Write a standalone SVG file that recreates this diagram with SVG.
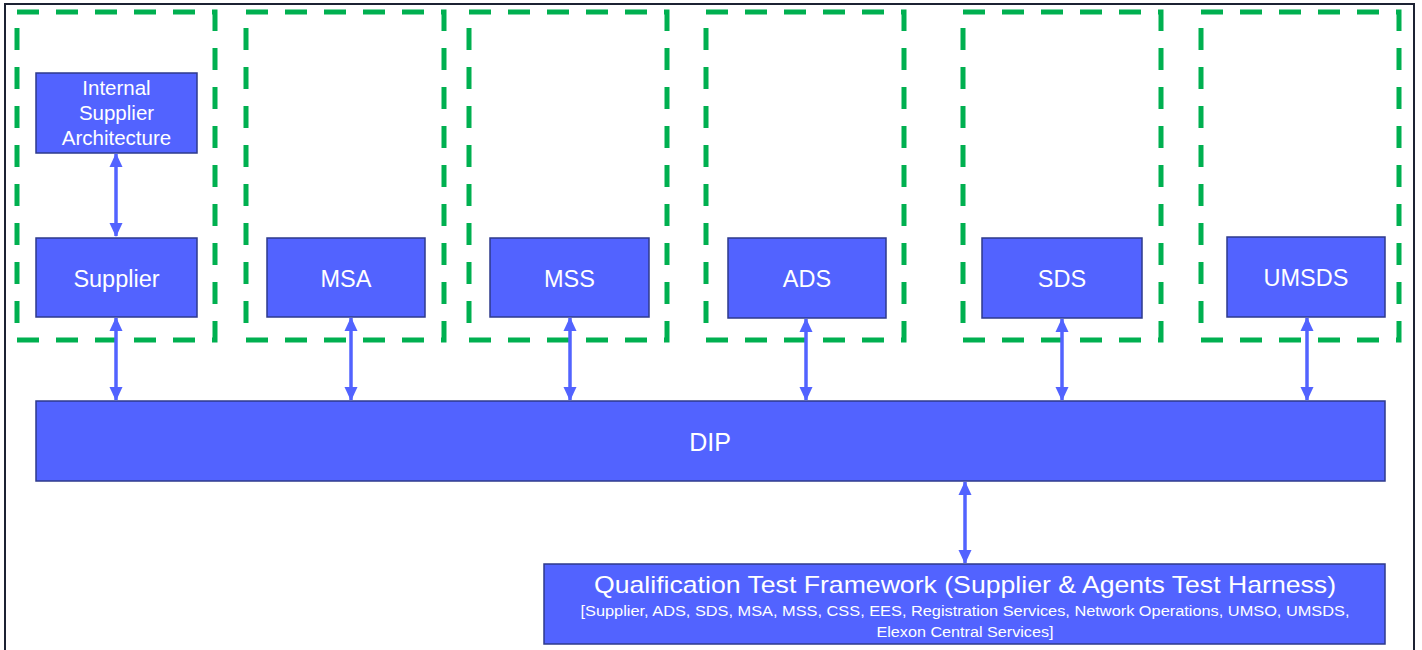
<svg xmlns="http://www.w3.org/2000/svg" width="1422" height="650" viewBox="0 0 1422 650">
<defs>
<style>
.frame{fill:none;stroke:#1c2233;stroke-width:2}
.grp{fill:none;stroke:#00B050;stroke-width:5;stroke-dasharray:22 17}
.node{fill:#5263FF;stroke:#2E3A8C;stroke-width:1.5}
.lbl{fill:#ffffff;font-family:"Liberation Sans",Arial,sans-serif;text-anchor:middle}
.big{font-size:23.5px}
.conn{stroke:#5263FF;stroke-width:3.5;fill:none;marker-start:url(#ah);marker-end:url(#ah)}
</style>
<marker id="ah" viewBox="0 0 14 14" refX="13" refY="7" markerWidth="14" markerHeight="14" markerUnits="userSpaceOnUse" orient="auto-start-reverse">
<path d="M0,0.5 L14,7 L0,13.5 Z" fill="#5263FF"/>
</marker>
</defs>
<rect width="1422" height="650" fill="#ffffff"/>
<rect class="frame" x="5" y="4" width="1409" height="660"/>
<g id="groups">
<rect class="grp" x="17" y="12" width="198" height="328"/>
<rect class="grp" x="246" y="12" width="198" height="328"/>
<rect class="grp" x="469" y="12" width="198" height="328"/>
<rect class="grp" x="706" y="12" width="198" height="328"/>
<rect class="grp" x="963" y="12" width="198" height="328"/>
<rect class="grp" x="1201" y="12" width="198" height="328"/>
</g>
<g id="node-isa">
<rect class="node" x="36" y="73" width="161" height="80"/>
<text class="lbl" x="116.5" y="95" font-size="20.5">Internal</text>
<text class="lbl" x="116.5" y="120" font-size="20.5">Supplier</text>
<text class="lbl" x="116.5" y="145" font-size="20.5">Architecture</text>
</g>
<g id="node-supplier">
<rect class="node" x="36" y="238" width="161" height="79"/>
<text class="lbl big" x="116.5" y="287">Supplier</text>
</g>
<g id="node-msa">
<rect class="node" x="267" y="238" width="158" height="79"/>
<text class="lbl big" x="346" y="287">MSA</text>
</g>
<g id="node-mss">
<rect class="node" x="490" y="238" width="159" height="79"/>
<text class="lbl big" x="569.5" y="287">MSS</text>
</g>
<g id="node-ads">
<rect class="node" x="728" y="238" width="158" height="80"/>
<text class="lbl big" x="807" y="287">ADS</text>
</g>
<g id="node-sds">
<rect class="node" x="982" y="238" width="160" height="80"/>
<text class="lbl big" x="1062" y="287">SDS</text>
</g>
<g id="node-umsds">
<rect class="node" x="1227" y="237" width="158" height="80"/>
<text class="lbl big" x="1306" y="286">UMSDS</text>
</g>
<g id="node-dip">
<rect class="node" x="36" y="401" width="1349" height="80"/>
<text class="lbl" x="710" y="451" font-size="25">DIP</text>
</g>
<g id="node-qtf">
<rect class="node" x="544" y="564" width="841" height="80"/>
<text class="lbl" x="965" y="593" font-size="24" textLength="742" lengthAdjust="spacingAndGlyphs">Qualification Test Framework (Supplier &amp; Agents Test Harness)</text>
<text class="lbl" x="965" y="616" font-size="15.5" textLength="769" lengthAdjust="spacingAndGlyphs">[Supplier, ADS, SDS, MSA, MSS, CSS, EES, Registration Services, Network Operations, UMSO, UMSDS,</text>
<text class="lbl" x="965" y="637" font-size="15.5" textLength="177" lengthAdjust="spacingAndGlyphs">Elexon Central Services]</text>
</g>
<g id="connectors">
<line class="conn" x1="116" y1="154" x2="116" y2="236"/>
<line class="conn" x1="116" y1="318" x2="116" y2="400"/>
<line class="conn" x1="351" y1="318" x2="351" y2="400"/>
<line class="conn" x1="570" y1="318" x2="570" y2="400"/>
<line class="conn" x1="806" y1="319" x2="806" y2="400"/>
<line class="conn" x1="1062" y1="319" x2="1062" y2="400"/>
<line class="conn" x1="1307" y1="318" x2="1307" y2="400"/>
<line class="conn" x1="965" y1="482" x2="965" y2="563"/>
</g>
</svg>
